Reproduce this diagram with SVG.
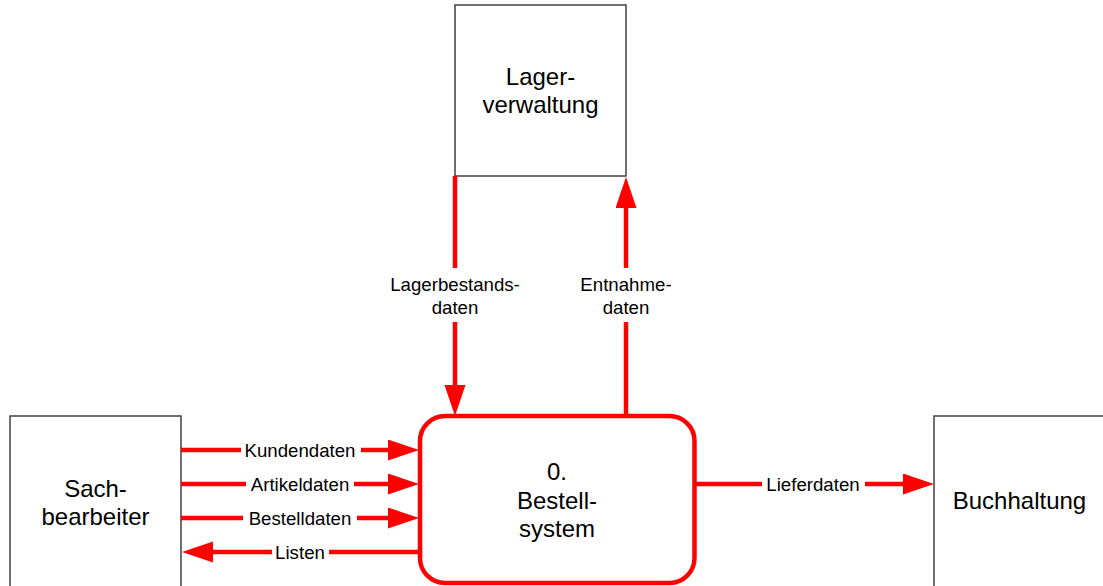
<svg xmlns="http://www.w3.org/2000/svg" width="1103" height="586" viewBox="0 0 1103 586">
  <style>
    .ext { fill: #ffffff; stroke: #404040; stroke-width: 1.5; }
    .proc { fill: #ffffff; stroke: #ff0000; stroke-width: 4.5; }
    .flow { fill: none; stroke: #ff0000; stroke-width: 4.5; }
    .big { font-family: "Liberation Sans", Arial, sans-serif; font-size: 24px; fill: #000000; text-anchor: middle; }
    .lbl { font-family: "Liberation Sans", Arial, sans-serif; font-size: 18.67px; fill: #000000; text-anchor: middle; }
  </style>
  <defs>
    <marker id="head" markerUnits="userSpaceOnUse" markerWidth="32" markerHeight="22" refX="0" refY="10.5" orient="auto">
      <path d="M0,0 L31,10.5 L0,21 Z" fill="#ff0000"/>
    </marker>
  </defs>
  <rect width="1103" height="586" fill="#ffffff"/>

  <!-- external entities -->
  <g id="lagerverwaltung">
    <rect class="ext" x="455" y="5" width="171" height="171"/>
    <text class="big" x="540.5" y="85">Lager-</text>
    <text class="big" x="540.5" y="113">verwaltung</text>
  </g>
  <g id="sachbearbeiter">
    <rect class="ext" x="10" y="416" width="171" height="200"/>
    <text class="big" x="95.5" y="497">Sach-</text>
    <text class="big" x="95.5" y="525">bearbeiter</text>
  </g>
  <g id="buchhaltung">
    <rect class="ext" x="934" y="416" width="200" height="200"/>
    <text class="big" x="1019.5" y="509">Buchhaltung</text>
  </g>

  <!-- process -->
  <g id="bestellsystem">
    <rect class="proc" x="420" y="416" width="274.5" height="167" rx="25" ry="25"/>
    <text class="big" x="557" y="480">0.</text>
    <text class="big" x="557" y="509">Bestell-</text>
    <text class="big" x="557" y="537">system</text>
  </g>

  <!-- data flows -->
  <g id="connectors">
    <path class="flow" d="M455,176 V268 M455,322 V385" marker-end="url(#head)"/>
    <text class="lbl" x="455" y="291">Lagerbestands-</text>
    <text class="lbl" x="455" y="314">daten</text>

    <path class="flow" d="M626,416 V322 M626,268 V208" marker-end="url(#head)"/>
    <text class="lbl" x="626" y="291">Entnahme-</text>
    <text class="lbl" x="626" y="314">daten</text>

    <path class="flow" d="M181,450 H241 M361,450 H388" marker-end="url(#head)"/>
    <text class="lbl" x="300" y="457">Kundendaten</text>

    <path class="flow" d="M181,484 H246 M354,484 H388" marker-end="url(#head)"/>
    <text class="lbl" x="300" y="491">Artikeldaten</text>

    <path class="flow" d="M181,518 H243 M357,518 H388" marker-end="url(#head)"/>
    <text class="lbl" x="300" y="525">Bestelldaten</text>

    <path class="flow" d="M420,552 H329 M272,552 H213" marker-end="url(#head)"/>
    <text class="lbl" x="300" y="559">Listen</text>

    <path class="flow" d="M694,484 H762 M865,484 H903" marker-end="url(#head)"/>
    <text class="lbl" x="813" y="491">Lieferdaten</text>
  </g>
</svg>
